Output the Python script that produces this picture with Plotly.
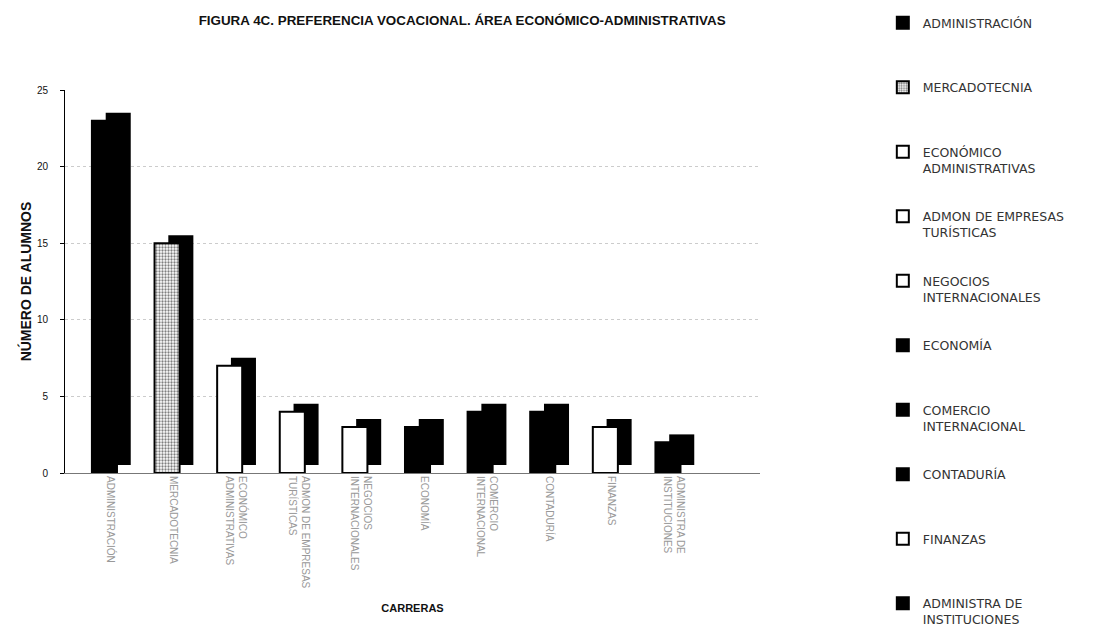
import plotly.graph_objects as go

carreras_eje = [
    "ADMINISTRACIÓN", "MERCADOTECNIA", "ECONÓMICO<br>ADMINISTRATIVAS",
    "ADMON DE EMPRESAS<br>TURÍSTICAS", "NEGOCIOS<br>INTERNACIONALES", "ECONOMÍA",
    "COMERCIO<br>INTERNACIONAL", "CONTADURÍA", "FINANZAS", "ADMINISTRA DE<br>INSTITUCIONES",
]
carreras_leyenda = [
    "ADMINISTRACIÓN", "MERCADOTECNIA", "ECONÓMICO<br>ADMINISTRATIVAS",
    "ADMON DE EMPRESAS<br>TURÍSTICAS", "NEGOCIOS<br>INTERNACIONALES", "ECONOMÍA",
    "COMERCIO<br>INTERNACIONAL", "CONTADURÍA", "FINANZAS", "ADMINISTRA DE<br>INSTITUCIONES",
]
alumnos = [23, 15, 7, 4, 3, 3, 4, 4, 3, 2]
relleno = ["black", "pattern", "white", "white", "white", "black", "black", "black", "white", "black"]

fig = go.Figure()
for i, (cx, name, v, f) in enumerate(zip(carreras_eje, carreras_leyenda, alumnos, relleno)):
    # depth (3D side) face
    fig.add_trace(go.Bar(
        x=[cx], y=[v], base=[0.52], offset=-0.08, width=0.40,
        marker=dict(color="black", line=dict(color="black", width=0)),
        showlegend=False, hoverinfo="skip", legendgroup=f"g{i}",
    ))
    marker = dict(line=dict(color="black", width=2))
    if f == "pattern":
        marker["color"] = "white"
        marker["pattern"] = dict(shape=".", fgcolor="black", bgcolor="white", size=3, solidity=0.45)
    else:
        marker["color"] = f
    legend_name = name if "<br>" in name else name + "<br> "
    fig.add_trace(go.Bar(
        x=[cx], y=[v], offset=-0.30, width=0.40, marker=marker,
        name=legend_name, legendgroup=f"g{i}",
    ))

fig.update_layout(
    width=1113, height=628,
    barmode="overlay",
    plot_bgcolor="white", paper_bgcolor="white",
    margin=dict(l=57, r=361, t=82, b=163),
    font=dict(family="Liberation Sans, Arial, sans-serif", color="#111"),
    title=dict(
        text="<b>FIGURA 4C. PREFERENCIA VOCACIONAL. ÁREA ECONÓMICO-ADMINISTRATIVAS</b>",
        x=0.408, xref="container", xanchor="center",
        y=0.981, yref="container", yanchor="middle",
        font=dict(size=13.4, color="#111"),
    ),
    xaxis=dict(
        range=[-0.73, 10.37], showline=True, linecolor="#777", linewidth=1,
        tickangle=90, tickfont=dict(size=10, color="#999"), ticks="",
        automargin=False,
        title=dict(text="<b>CARRERAS</b>", font=dict(size=11, color="#111"), standoff=16),
        showgrid=False,
    ),
    yaxis=dict(
        range=[0, 25], dtick=5, showline=True, linecolor="black", linewidth=1,
        ticks="outside", ticklen=4, tickcolor="black", ticklabelstandoff=10,
        tickfont=dict(size=10, color="#111"),
        showgrid=True, gridcolor="#ccc", griddash="dot", gridwidth=1,
        zeroline=False, automargin=False,
        title=dict(text="<b>NÚMERO DE ALUMNOS</b>", font=dict(size=14, color="#111"), standoff=1),
    ),
    legend=dict(
        xref="container", yref="container",
        x=0.786, xanchor="left", y=1.0, yanchor="top",
        traceorder="grouped", tracegroupgap=29,
        font=dict(family="DejaVu Sans, sans-serif", size=12.5, color="#333"),
        itemwidth=30, valign="top", maxheight=628,
    ),
)

fig.write_html("out.html")
